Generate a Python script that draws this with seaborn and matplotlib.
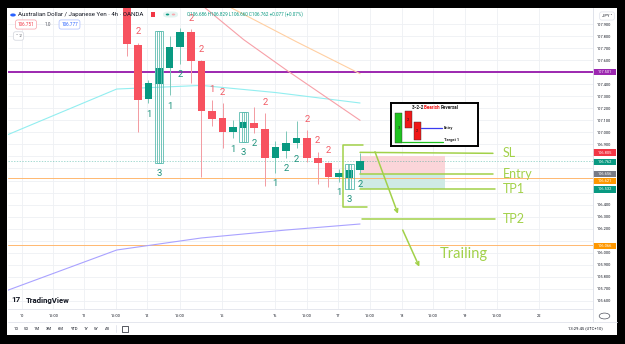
import numpy as np
import pandas as pd
from matplotlib import pyplot as plt
from matplotlib.patches import Rectangle, FancyBboxPatch, Circle
from matplotlib.lines import Line2D
import matplotlib.transforms as mtransforms
import seaborn as sns

# AUDJPY 4h candles (OANDA); bar 0 = first visible candle
bar_idx = list(range(23))
opens = [108.100, 107.726, 107.275, 107.399, 107.532, 107.711, 107.831, 107.593, 107.177, 107.117,
         107.005, 107.039, 107.080, 107.028, 106.790, 106.845, 106.909, 106.956, 106.785, 106.743,
         106.632, 106.618, 106.686]
highs = [108.150, 107.745, 107.435, 107.844, 107.800, 107.864, 107.858, 107.597, 107.269, 107.241,
         107.103, 107.172, 107.213, 107.158, 106.928, 107.014, 107.097, 107.020, 106.839, 106.756,
         106.693, 106.735, 106.829]
lows = [107.634, 107.005, 107.241, 106.748, 107.310, 107.568, 107.412, 106.630, 107.053, 106.868,
        106.951, 106.922, 106.997, 106.554, 106.665, 106.790, 106.868, 106.756, 106.571, 106.549,
        106.590, 106.530, 106.660]
closes = [107.734, 107.269, 107.407, 107.532, 107.711, 107.831, 107.593, 107.177, 107.111, 107.005,
          107.047, 107.084, 107.039, 106.790, 106.881, 106.909, 106.956, 106.785, 106.743, 106.632,
          106.660, 106.687, 106.762]
# "the strat" bar numbers and which side the number is printed on
strat_num = ['2', '2', '1', '3', '1', '2', '2', '2', '1', '2', '1', '3', '2', '2', '1', '2', '2', '2',
             '2', '2', '1', '3', '2']
strat_dir = ['d', 'd', 'u', 'u', 'u', 'u', 'd', 'd', 'd', 'd', 'u', 'u', 'u', 'd', 'u', 'u', 'u', 'd',
             'd', 'd', 'u', 'u', 'u']

# moving averages (bar index, price)
cyan_idx = [-12, -1, 7, 14, 22]
cyan_val = [106.955, 107.360, 107.390, 107.331, 107.244]
pink_idx = [7, 11, 15, 19, 22]
pink_val = [108.060, 107.770, 107.520, 107.280, 107.100]
orange_idx = [9, 16, 22]
orange_val = [108.072, 107.752, 107.487]
blue_idx = [-12, -1, 7, 15, 22]
blue_val = [105.666, 106.023, 106.123, 106.189, 106.239]

# horizontal levels
purple_level = 107.501
orange_levels = [106.621, 106.066]
last_price = 106.762

# short position tool
pos_bars = [22, 30]
pos_stop, pos_entry, pos_target = 106.805, 106.656, 106.532

# price axis tags
tag_values = [107.501, 106.805, 106.762, 106.656, 106.621, 106.532, 106.066]
tag_colors = ['#9c27b0', '#f23645', '#089981', '#787b86', '#ff9800', '#089981', '#ff9800']
tag_nudge = [0, 0.026, -0.006, 0, -0.025, -0.005, -0.008]

# time axis
time_pos = [-9.95, -7.0, -4.1, -1.07, 1.9, 4.98, 8.95, 13.96, 16.99, 19.92, 22.94, 25.97, 28.9,
            31.92, 34.95, 38.9]
time_lab = ['10', '15:00', '11', '15:00', '12', '15:00', '15', '16', '15:00', '17', '15:00', '18',
            '15:00', '19', '15:00', '22']

# hand drawn notes: (x0, x1, y0, y1, label)
note_lines = [
    (22.0, 34.56, 106.834, 106.826, 'SL'),
    (22.0, 34.56, 106.654, 106.654, 'Entry'),
    (22.0, 34.75, 106.527, 106.527, 'TP1'),
    (22.16, 34.75, 106.278, 106.278, 'TP2'),
]
bracket_x = [22.27, 20.4, 20.4, 22.63]
bracket_y = [106.895, 106.895, 106.383, 106.383]
arrows = [((23.41, 106.839), (25.58, 106.324)), ((26.03, 106.189), (27.6, 105.884))]

# 3-2-2 bearish reversal sketch
inset_x = [7.8, 17.2, 26.2]
inset_top = [10.0, 7.7, 18.4]
inset_bottom = [39.4, 25.0, 36.7]
inset_labels = ['3', '2', '2']
inset_colors = ['#1fc21f', '#f01818', '#f01818']

red, green = '#f7525f', '#089981'
red_wick, green_wick = '#f39aa1', '#7cc7b8'
lime = '#a2d149'

sns.set_theme(style='white')
plt.rcParams['font.family'] = ['Roboto', 'DejaVu Sans']

W, H = 625, 344
fig = plt.figure(figsize=(W / 100, H / 100), dpi=100, facecolor='black')


def fx(x):
    return x / W


def fy(y):
    return 1 - y / H


fig.add_artist(Rectangle((fx(7), fy(335)), fx(617) - fx(7), (335 - 8) / H,
                         transform=fig.transFigure, fc='white', ec='none', zorder=-1))

ax = fig.add_axes([fx(8), fy(309), fx(593) - fx(8), (309 - 8) / H])
ax.set_facecolor('white')
ax.set_xlim(-11.276, 44.017)
ax.set_ylim(105.533, 108.033)
y_lo, y_hi = ax.get_ylim()

# levels
ax.axhline(purple_level, color='#9c27b0', lw=1.4, zorder=1.6)
for lv in orange_levels:
    ax.axhline(lv, color='#ffb870', lw=0.7, zorder=1.6)
ax.axhline(last_price, color=green, lw=0.5, ls=(0, (2, 2)), alpha=0.5, zorder=1.6)

# position tool
ax.fill_between(pos_bars, pos_entry, pos_stop, color='#fbd5d9', lw=0, zorder=1.2)
ax.fill_between(pos_bars, pos_target, pos_entry, color='#cfeae5', lw=0, zorder=1.2)

# moving averages
for xs, ys, col in [(cyan_idx, cyan_val, '#92eef0'), (pink_idx, pink_val, '#f7a0a8'),
                    (orange_idx, orange_val, '#ffcfa2'), (blue_idx, blue_val, '#a9a2ff')]:
    sns.lineplot(x=xs, y=ys, ax=ax, color=col, lw=0.8, sort=False, estimator=None, zorder=2)

# candles
df = pd.DataFrame(dict(i=bar_idx, o=opens, h=highs, l=lows, c=closes, n=strat_num, d=strat_dir))
up = df['c'] >= df['o']
ax.vlines(df['i'], df['l'], df['h'], colors=np.where(up, green_wick, red_wick), lw=0.7, zorder=3)
ax.bar(df['i'], (df['c'] - df['o']).abs(), bottom=df[['o', 'c']].min(axis=1), width=0.72,
       color=np.where(up, green, red), lw=0, zorder=4)

for _, r in df[df['n'] == '3'].iterrows():
    for w in (0.84, 0.36):
        ax.add_patch(Rectangle((r['i'] - w / 2, r['l']), w, r['h'] - r['l'], fill=False,
                               ec='#5cbcb0', lw=0.6, zorder=4.5))

off = 0.091
for _, r in df.iterrows():
    if r['d'] == 'd':
        yl, col = r['h'] + off, '#f25a64'
    else:
        yl, col = r['l'] - off, '#1e937d'
    if y_lo < yl < y_hi - 0.05:
        ax.text(r['i'], yl, r['n'], color=col, fontsize=6.8, ha='center', va='center', zorder=5)

# hand drawn notes
hand = dict(family=['Lato', 'DejaVu Sans'], color=lime)
for x0, x1, y0, y1, lab in note_lines:
    ax.plot([x0, x1], [y0, y1], color=lime, lw=1.1, zorder=6, solid_capstyle='round')
    ax.text(35.5, y1, lab, fontsize=9, ha='left', va='center', zorder=6, **hand)
ax.plot(bracket_x, bracket_y, color=lime, lw=1.1, zorder=6)
for a, b in arrows:
    ax.annotate('', xy=b, xytext=a, arrowprops=dict(arrowstyle='->', color=lime, lw=1.1,
                                                      mutation_scale=6, shrinkA=0, shrinkB=0),
                zorder=6)
ax.text(29.56, 105.99, 'Trailing', fontsize=10.5, ha='left', va='center', zorder=6, **hand)

# axes cosmetics
price_ticks = [round(105.6 + 0.1 * k, 1) for k in range(24)]
hidden = {106.8, 106.7, 106.6, 106.5, 106.1}
ax.set_yticks(price_ticks)
ax.set_yticklabels(['' if p in hidden else f'{p:.3f}' for p in price_ticks])
ax.yaxis.tick_right()
ax.set_xticks(time_pos)
ax.set_xticklabels(time_lab)
ax.tick_params(axis='y', length=0, pad=2.6, labelsize=2.9, labelcolor='#131722')
ax.tick_params(axis='x', length=0, pad=3.6, labelsize=2.9, labelcolor='#131722')
ax.grid(True, color='#eef0f4', lw=0.6)
ax.set_axisbelow(True)
ax.set_xlabel('')
ax.set_ylabel('')
for s in ['top', 'left']:
    ax.spines[s].set_visible(False)
for s in ['right', 'bottom']:
    ax.spines[s].set_color('#e0e3eb')
    ax.spines[s].set_linewidth(0.6)

# price tags on the axis
blend = mtransforms.blended_transform_factory(ax.transAxes, ax.transData)
tag_w = 23 / 585
tag_h = 6.5 / 120.4
for v, c, nd in zip(tag_values, tag_colors, tag_nudge):
    ax.add_patch(Rectangle((1.0, v + nd - tag_h / 2), tag_w, tag_h, transform=blend, fc=c,
                           ec='none', clip_on=False, zorder=8))
    ax.text(1.0 + tag_w / 2, v + nd, f'{v:.3f}', transform=blend, ha='center', va='center',
            fontsize=2.9, color='white', clip_on=False, zorder=9)

# inset sketch
axi = fig.add_axes([fx(391), fy(145.7), fx(478.3) - fx(391), (145.7 - 103.3) / H])
axi.set_xlim(0, 87.3)
axi.set_ylim(42.4, 0)
axi.set_facecolor('white')
axi.set_xticks([])
axi.set_yticks([])
for s in axi.spines.values():
    s.set_color('black')
    s.set_linewidth(1.4)
axi.bar(inset_x, np.array(inset_bottom) - np.array(inset_top), bottom=inset_top, width=7,
        color=inset_colors, edgecolor='#333333', lw=0.3)
for xb, t, b, lab in zip(inset_x, inset_top, inset_bottom, inset_labels):
    axi.text(xb, (t + b) / 2, lab, fontsize=3, ha='center', va='center', color='#222222')
axi.plot([29.7, 50.7], [25, 25], color='#3b3bf0', lw=0.9)
axi.plot([11, 52], [38.7, 38.7], color='#1fc21f', lw=0.9)
axi.text(53, 25, 'Entry', fontsize=2.9, fontweight='bold', va='center', color='#222222')
axi.text(53, 37, 'Target 1', fontsize=2.9, fontweight='bold', va='center', color='#222222')
t1 = axi.text(20.7, 4, '3-2-2 ', fontsize=3.3, fontweight='bold', va='center', color='#222222')
t2 = axi.annotate('Bearish ', xy=(1, 0), xycoords=t1, va='bottom', fontsize=3.3,
                  fontweight='bold', color='#f01818')
axi.annotate('Reversal', xy=(1, 0), xycoords=t2, va='bottom', fontsize=3.3, fontweight='bold',
             color='#222222')

# header
fig.add_artist(Circle((fx(13), fy(15)), 0.0045, transform=fig.transFigure, fc='#2962ff',
                      ec='none', zorder=10))
fig.text(fx(18), fy(14.5), 'Australian Dollar / Japanese Yen · 4h · OANDA', fontsize=4.4,
         color='#131722', va='center', zorder=10)
fig.add_artist(Rectangle((fx(151), fy(16.5)), fx(4), 4 / H, transform=fig.transFigure,
                         fc='#f23645', ec='none', zorder=10))
fig.add_artist(FancyBboxPatch((fx(163), fy(17.5)), fx(15), 6 / H,
                              boxstyle='round,pad=0,rounding_size=0.008',
                              transform=fig.transFigure, fc='#e3f4f1', ec='none', zorder=10))
fig.add_artist(Circle((fx(167.5), fy(14.5)), 0.0028, transform=fig.transFigure, fc=green,
                      ec='none', zorder=11))
fig.add_artist(Circle((fx(173.5), fy(14.5)), 0.0028, transform=fig.transFigure, fc='#f7a9b0',
                      ec='none', zorder=11))
fig.text(fx(187), fy(14), 'O106.686 H106.829 L106.660 C106.762 +0.077 (+0.07%)', fontsize=3.3,
         color=green, va='center', zorder=10)
fig.text(fx(26), fy(24.5), '106.751', fontsize=3.3, color='#f23645', ha='center', va='center',
         zorder=10, bbox=dict(boxstyle='round,pad=0.45', fc='white', ec='#f7a0a8', lw=0.5))
fig.text(fx(48), fy(24.5), '1.0', fontsize=3.3, color='#50535e', ha='center', va='center', zorder=10)
fig.text(fx(69.5), fy(24.5), '106.777', fontsize=3.3, color='#2962ff', ha='center', va='center',
         zorder=10, bbox=dict(boxstyle='round,pad=0.45', fc='white', ec='#a8bcff', lw=0.5))
fig.text(fx(18.5), fy(36), '˅ 2', fontsize=3.2, color='#50535e', ha='center', va='center', zorder=10,
         bbox=dict(boxstyle='round,pad=0.5', fc='white', ec='#d1d4dc', lw=0.5))
fig.text(fx(607), fy(16), 'JPY ˅', fontsize=3.0, color='#131722', ha='center', va='center', zorder=10,
         bbox=dict(boxstyle='round,pad=0.5', fc='white', ec='#e0e3eb', lw=0.5))

# watermark
fig.text(fx(11), fy(300), '17', fontsize=5.8, fontweight='bold', color='#131722', va='center', zorder=10)
fig.text(fx(26), fy(300), 'TradingView', fontsize=5.6, fontweight='bold', color='#131722',
         va='center', zorder=10)

# separators
for xs, ys in [([593, 593], [8, 322]), ([8, 617], [322, 322])]:
    fig.add_artist(Line2D([fx(v) for v in xs], [fy(v) for v in ys], transform=fig.transFigure,
                          color='#e0e3eb', lw=0.6, zorder=5))
fig.add_artist(Circle((fx(604.5), fy(316)), 0.0085, transform=fig.transFigure, fill=False,
                      ec='#50535e', lw=0.5, zorder=10))

# bottom toolbar
for xt, lab in zip([16, 26.3, 37, 49, 60.6, 73.7, 85.7, 96.5, 107.6],
                   ['1D', '5D', '1M', '3M', '6M', 'YTD', '1Y', '5Y', 'All']):
    fig.text(fx(xt), fy(328.5), lab, fontsize=3.0, color='#131722', ha='center', va='center', zorder=10)
fig.add_artist(Line2D([fx(115.6)] * 2, [fy(325), fy(332)], transform=fig.transFigure,
                      color='#e0e3eb', lw=0.6, zorder=10))
fig.add_artist(Rectangle((fx(122), fy(331.5)), fx(6), 6 / H, transform=fig.transFigure,
                         fill=False, ec='#131722', lw=0.5, zorder=10))
fig.text(fx(603), fy(328.5), '13:29:45 (UTC+10)', fontsize=3.0, color='#131722', ha='right',
         va='center', zorder=10)

fig.savefig('out.png', dpi=100, facecolor='black')
